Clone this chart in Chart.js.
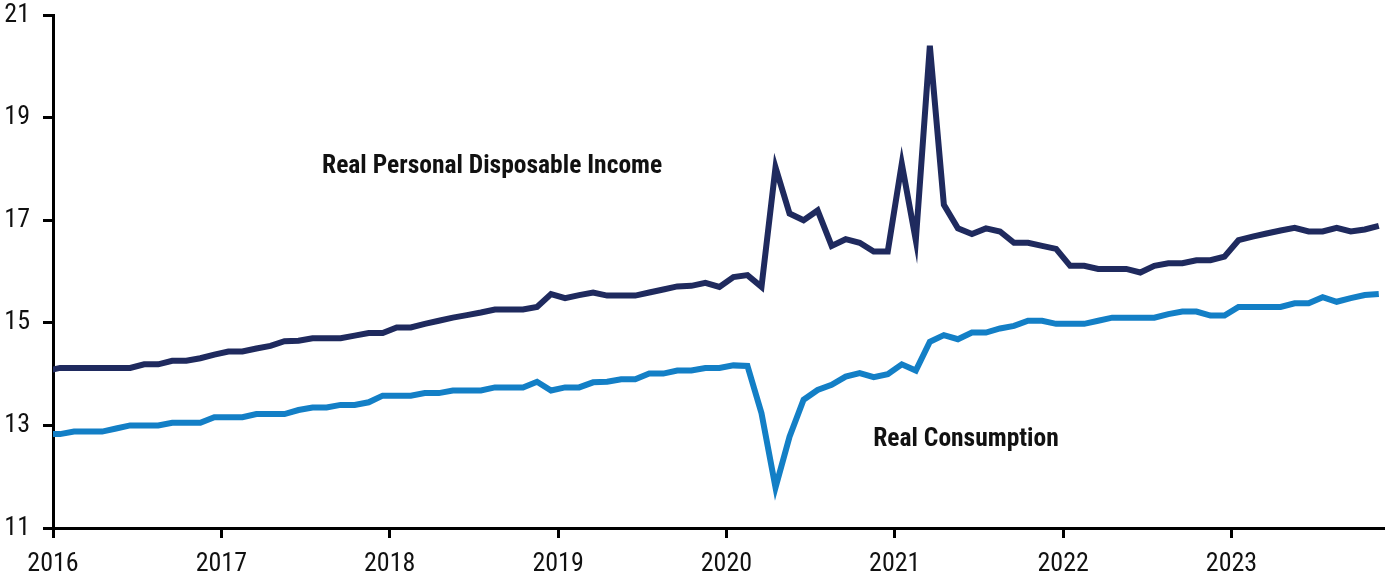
<!DOCTYPE html>
<html>
<head>
<meta charset="utf-8">
<title>Real Personal Disposable Income and Real Consumption</title>
<script src="https://cdn.jsdelivr.net/npm/chart.js@4/dist/chart.umd.min.js"></script>
<style>
  html, body { margin: 0; padding: 0; background: #ffffff; }
  canvas { display: block; }
</style>
</head>
<body>
<canvas id="chart" width="1388" height="579"></canvas>
<script>
// Monthly series, trillions of chained dollars (SAAR), Dec 2015 – Nov 2023
const firstMonth = { year: 2015, month: 12 };

const income = [
  14.06,
  14.12, 14.12, 14.12, 14.12, 14.12, 14.12, 14.19, 14.19, 14.26, 14.26, 14.31, 14.38,
  14.44, 14.44, 14.50, 14.55, 14.64, 14.65, 14.70, 14.70, 14.70, 14.75, 14.80, 14.80,
  14.91, 14.91, 14.98, 15.04, 15.10, 15.15, 15.20, 15.26, 15.26, 15.26, 15.31, 15.56,
  15.48, 15.54, 15.59, 15.53, 15.53, 15.53, 15.59, 15.65, 15.71, 15.72, 15.78, 15.70,
  15.89, 15.93, 15.70, 18.03, 17.13, 17.00, 17.19, 16.50, 16.63, 16.56, 16.39, 16.39,
  18.10, 16.61, 20.40, 17.30, 16.84, 16.73, 16.84, 16.78, 16.56, 16.56, 16.50, 16.44,
  16.11, 16.11, 16.05, 16.05, 16.05, 15.98, 16.11, 16.16, 16.16, 16.22, 16.22, 16.29,
  16.61, 16.68, 16.74, 16.80, 16.85, 16.78, 16.78, 16.85, 16.78, 16.82, 16.89
];

const consumption = [
  12.83,
  12.83, 12.88, 12.88, 12.88, 12.94, 13.00, 13.00, 13.00, 13.05, 13.05, 13.05, 13.16,
  13.16, 13.16, 13.22, 13.22, 13.22, 13.30, 13.35, 13.35, 13.40, 13.40, 13.45, 13.58,
  13.58, 13.58, 13.63, 13.63, 13.68, 13.68, 13.68, 13.74, 13.74, 13.74, 13.85, 13.68,
  13.74, 13.74, 13.84, 13.85, 13.90, 13.90, 14.01, 14.01, 14.07, 14.07, 14.12, 14.12,
  14.17, 14.16, 13.24, 11.79, 12.78, 13.50, 13.69, 13.79, 13.95, 14.02, 13.94, 14.00,
  14.19, 14.07, 14.63, 14.76, 14.68, 14.81, 14.81, 14.89, 14.94, 15.04, 15.04, 14.98,
  14.98, 14.98, 15.04, 15.10, 15.10, 15.10, 15.10, 15.17, 15.22, 15.22, 15.14, 15.14,
  15.31, 15.31, 15.31, 15.31, 15.38, 15.38, 15.50, 15.41, 15.48, 15.54, 15.56
];

const yearTicks = [2016, 2017, 2018, 2019, 2020, 2021, 2022, 2023];
const valueTicks = [11, 13, 15, 17, 19, 21];
const seriesNames = ['Real Personal Disposable Income', 'Real Consumption'];

// "YYYY-MM" month labels, one per observation
const months = income.map((_, i) => {
  const m = firstMonth.month - 1 + i;
  const y = firstMonth.year + Math.floor(m / 12);
  return y + '-' + String((m % 12) + 1).padStart(2, '0');
});

// observations sit at mid-month on a fractional-year axis
const toYear = label => {
  const [y, m] = label.split('-').map(Number);
  return y + (m - 0.5) / 12;
};

const FONT_FAMILY = "'Liberation Sans Narrow', 'Arial Narrow', 'Roboto Condensed', 'DejaVu Sans Condensed', 'Liberation Sans', sans-serif";

// draws the series names as text labels anchored in data coordinates
const seriesLabelPlugin = {
  id: 'seriesLabels',
  afterDatasetsDraw(chart, args, opts) {
    const { ctx, scales } = chart;
    ctx.save();
    ctx.font = opts.font;
    ctx.fillStyle = opts.color;
    ctx.textAlign = 'left';
    ctx.textBaseline = 'middle';
    opts.items.forEach(item => {
      ctx.fillText(item.text, scales.x.getPixelForValue(item.x), scales.y.getPixelForValue(item.y));
    });
    ctx.restore();
  }
};

const axisCommon = {
  border: { display: true, color: '#000000', width: 3 },
  grid: { drawOnChartArea: false, drawTicks: true, tickLength: 10, color: '#000000', lineWidth: 3 },
};

new Chart(document.getElementById('chart'), {
  type: 'line',
  data: {
    datasets: [
      {
        label: seriesNames[0],
        data: months.map((m, i) => ({ x: toYear(m), y: income[i] })),
        borderColor: '#1f2a5e',
        borderWidth: 6,
        pointRadius: 0,
        tension: 0,
        clip: 0
      },
      {
        label: seriesNames[1],
        data: months.map((m, i) => ({ x: toYear(m), y: consumption[i] })),
        borderColor: '#137fc6',
        borderWidth: 6,
        pointRadius: 0,
        tension: 0,
        clip: 0
      }
    ]
  },
  options: {
    responsive: false,
    animation: false,
    devicePixelRatio: 1,
    layout: { padding: { top: 15, right: 5, left: 0, bottom: 0 } },
    plugins: {
      legend: { display: false },
      tooltip: { enabled: false },
      seriesLabels: {
        font: "bold 25.5px " + FONT_FAMILY,
        color: '#111111',
        items: [
          { text: seriesNames[0], x: 2017.598, y: 18.04 },
          { text: seriesNames[1], x: 2020.872, y: 12.72 }
        ]
      }
    },
    scales: {
      x: {
        type: 'linear',
        min: 2016,
        max: 2023.9,
        afterBuildTicks: s => { s.ticks = yearTicks.map(v => ({ value: v })); },
        afterFit: s => { s.height = 51; s.paddingLeft = 0; s.paddingRight = 0; },
        ...axisCommon,
        ticks: {
          color: '#111111',
          font: { family: FONT_FAMILY, size: 26 },
          padding: 11,
          maxRotation: 0,
          autoSkip: false,
          callback: v => String(v)
        }
      },
      y: {
        min: 11,
        max: 21,
        afterBuildTicks: s => { s.ticks = valueTicks.map(v => ({ value: v })); },
        afterFit: s => { s.width = 53; s.paddingTop = 0; s.paddingBottom = 0; },
        ...axisCommon,
        ticks: {
          color: '#111111',
          font: { family: FONT_FAMILY, size: 26 },
          padding: 13,
          callback: v => String(v)
        }
      }
    }
  },
  plugins: [seriesLabelPlugin]
});
</script>
</body>
</html>
